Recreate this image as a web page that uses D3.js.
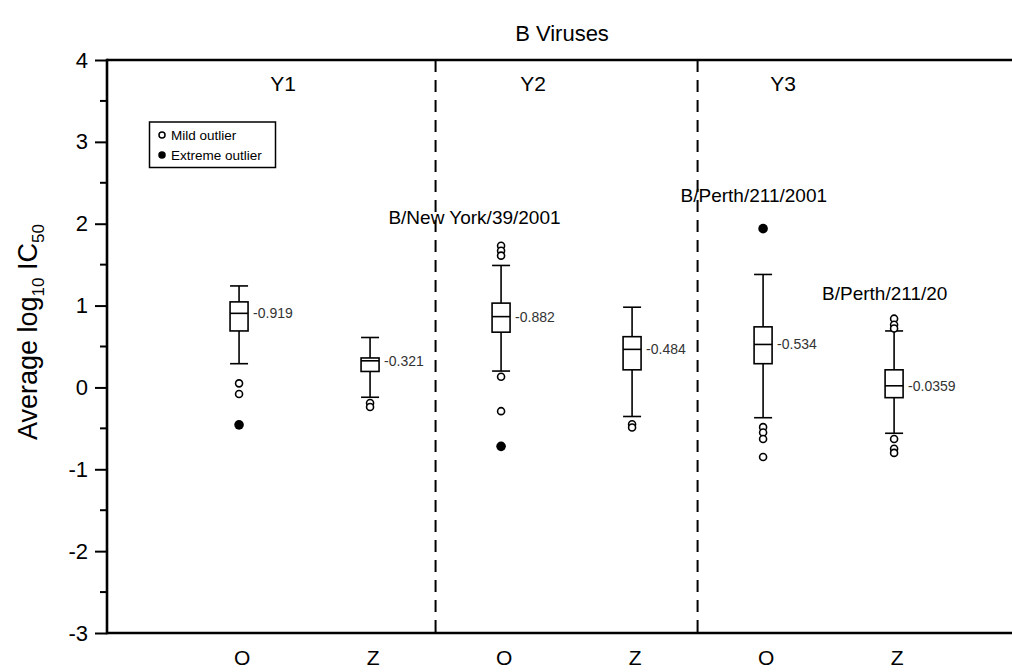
<!DOCTYPE html>
<html>
<head>
<meta charset="utf-8">
<script src="https://cdn.jsdelivr.net/npm/d3@7"></script>
<style>
  html, body { margin: 0; padding: 0; background: #fff; }
  svg { display: block; font-family: "Liberation Sans", Arial, Helvetica, sans-serif; }
</style>
</head>
<body>
<svg id="chart" width="1012" height="672"></svg>
<script>
// ---- data ----
const categories = ["O", "Z", "O", "Z", "O", "Z"];
const groups = ["Y1", "Y2", "Y3"];
const whiskerHigh = [1.24, 0.61, 1.49, 0.98, 1.38, 0.69];
const q3 = [1.045, 0.36, 1.03, 0.62, 0.74, 0.215];
const median = [0.905, 0.325, 0.865, 0.465, 0.525, 0.02];
const q1 = [0.69, 0.195, 0.675, 0.215, 0.29, -0.125];
const whiskerLow = [0.29, -0.12, 0.2, -0.355, -0.37, -0.56];
const medianLabels = ["-0.919", "-0.321", "-0.882", "-0.484", "-0.534", "-0.0359"];
const mildOutliers = [
  [0.05, -0.08],
  [-0.19, -0.24],
  [1.73, 1.67, 1.61, 0.13, -0.29],
  [-0.45, -0.49],
  [-0.485, -0.55, -0.63, -0.85],
  [0.84, 0.765, 0.72, -0.63, -0.75, -0.8]
];
const extremeOutliers = [[-0.457], [], [-0.72], [], [1.94], []];
const strainLabels = ["B/New York/39/2001", "B/Perth/211/2001", "B/Perth/211/20"];
const yTicks = [-3, -2, -1, 0, 1, 2, 3, 4];
const legendItems = ["Mild outlier", "Extreme outlier"];

// ---- layout ----
const svg = d3.select("#chart");
const mLeft = 107, mRight = 1012, mTop = 60, mBottom = 633;
const x = d3.scaleLinear().domain([-1.008, 5.9]).range([mLeft, mRight]);
const y = d3.scaleLinear().domain([-3, 4]).range([mBottom, mTop]);
const boxW = 18;
const FONT = "Liberation Sans, Arial, Helvetica, sans-serif";

// title
svg.append("text").attr("x", 562).attr("y", 41).attr("text-anchor", "middle")
  .attr("font-size", 22).text("B Viruses");

// y axis title
const yt = svg.append("text")
  .attr("transform", `translate(37, 332) rotate(-90)`)
  .attr("text-anchor", "middle").attr("font-size", 27);
yt.append("tspan").text("Average log");
yt.append("tspan").attr("font-size", 17).attr("dy", 7).text("10");
yt.append("tspan").attr("dy", -7).text(" IC");
yt.append("tspan").attr("font-size", 17).attr("dy", 7).text("50");

// y axis
const yAxis = d3.axisLeft(y).tickValues(yTicks).tickSize(12).tickPadding(7).tickFormat(d => String(d));
const yg = svg.append("g").attr("transform", `translate(${mLeft},0)`).call(yAxis);
yg.attr("font-size", 22).attr("font-family", FONT);
yg.select(".domain").remove();
yg.selectAll(".tick line").attr("stroke", "#000").attr("stroke-width", 2);
yg.selectAll(".tick text").attr("fill", "#000");
const minor = d3.range(-2.5, 4, 1);
svg.append("g").selectAll("line").data(minor).join("line")
  .attr("x1", mLeft - 7).attr("x2", mLeft).attr("y1", d => y(d)).attr("y2", d => y(d))
  .attr("stroke", "#000").attr("stroke-width", 2);

// frame lines
svg.append("line").attr("x1", mLeft).attr("x2", mLeft).attr("y1", mTop - 1.2).attr("y2", mBottom + 1.2)
  .attr("stroke", "#000").attr("stroke-width", 2.6);
svg.append("line").attr("x1", mLeft).attr("x2", mRight).attr("y1", mTop).attr("y2", mTop)
  .attr("stroke", "#000").attr("stroke-width", 2.6);
svg.append("line").attr("x1", mLeft).attr("x2", mRight).attr("y1", mBottom).attr("y2", mBottom)
  .attr("stroke", "#000").attr("stroke-width", 2.6);

// x category labels
svg.append("g").selectAll("text").data(categories).join("text")
  .attr("x", (d, i) => x(i) + 3).attr("y", 665).attr("text-anchor", "middle")
  .attr("font-size", 21).text(d => d);

// group separators (dashed)
[1.5, 3.5].forEach(p => {
  svg.append("line").attr("x1", x(p)).attr("x2", x(p)).attr("y1", mTop).attr("y2", mBottom)
    .attr("stroke", "#000").attr("stroke-width", 2).attr("stroke-dasharray", "12,8");
});

// group labels
const groupPos = [0.336, 2.244, 4.153];
svg.append("g").selectAll("text").data(groups).join("text")
  .attr("x", (d, i) => x(groupPos[i])).attr("y", 91).attr("text-anchor", "middle")
  .attr("font-size", 21).text(d => d);

// strain annotations
const strainPos = [[1.14, 2.0], [3.37, 2.27], [4.45, 1.07]];
svg.append("g").selectAll("text").data(strainLabels).join("text")
  .attr("x", (d, i) => x(strainPos[i][0])).attr("y", (d, i) => y(strainPos[i][1]))
  .attr("font-size", 19).text(d => d);

// boxes
const boxes = svg.append("g").attr("stroke", "#000").attr("stroke-width", 1.6).attr("fill", "none");
categories.forEach((c, i) => {
  const cx = x(i);
  const g = boxes.append("g");
  g.append("line").attr("x1", cx).attr("x2", cx).attr("y1", y(whiskerHigh[i])).attr("y2", y(q3[i]));
  g.append("line").attr("x1", cx).attr("x2", cx).attr("y1", y(q1[i])).attr("y2", y(whiskerLow[i]));
  g.append("line").attr("x1", cx - boxW / 2).attr("x2", cx + boxW / 2)
    .attr("y1", y(whiskerHigh[i])).attr("y2", y(whiskerHigh[i]));
  g.append("line").attr("x1", cx - boxW / 2).attr("x2", cx + boxW / 2)
    .attr("y1", y(whiskerLow[i])).attr("y2", y(whiskerLow[i]));
  g.append("rect").attr("x", cx - boxW / 2).attr("width", boxW)
    .attr("y", y(q3[i])).attr("height", y(q1[i]) - y(q3[i])).attr("fill", "#fff");
  g.append("line").attr("x1", cx - boxW / 2).attr("x2", cx + boxW / 2)
    .attr("y1", y(median[i])).attr("y2", y(median[i]));
  mildOutliers[i].forEach(v => {
    g.append("circle").attr("cx", cx).attr("cy", y(v)).attr("r", 3.5)
      .attr("fill", "#fff").attr("stroke-width", 1.6);
  });
  extremeOutliers[i].forEach(v => {
    g.append("circle").attr("cx", cx).attr("cy", y(v)).attr("r", 4.8).attr("fill", "#000").attr("stroke", "none");
  });
  svg.append("text").attr("x", cx + boxW / 2 + 5).attr("y", y(median[i]) + 5)
    .attr("font-size", 14).attr("fill", "#333").text(medianLabels[i]);
});

// legend
const lg = svg.append("g");
lg.append("rect").attr("x", 149.5).attr("y", 122).attr("width", 126).attr("height", 45.5)
  .attr("fill", "#fff").attr("stroke", "#000").attr("stroke-width", 1.5);
legendItems.forEach((t, i) => {
  const cy = 135 + i * 20;
  lg.append("circle").attr("cx", 162).attr("cy", cy).attr("r", 3)
    .attr("fill", i === 0 ? "#fff" : "#000").attr("stroke", "#000").attr("stroke-width", 1.5);
  lg.append("text").attr("x", 171).attr("y", cy + 4.5).attr("font-size", 13.5).text(t);
});
</script>
</body>
</html>
